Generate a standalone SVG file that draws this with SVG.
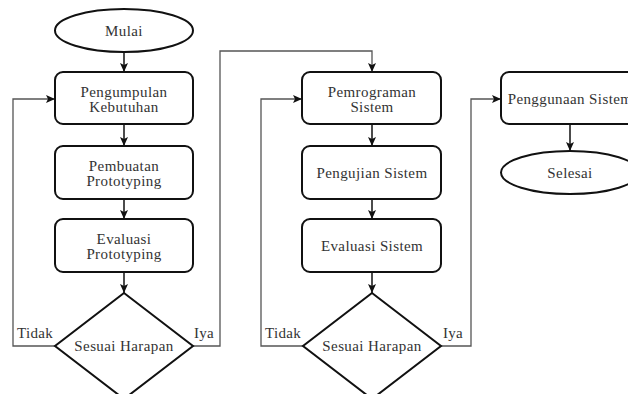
<svg xmlns="http://www.w3.org/2000/svg" width="628" height="394" viewBox="0 0 628 394">
<style>
.box{fill:#fff;stroke:#111;stroke-width:2}
.t{font-family:"Liberation Serif","Times New Roman",serif;font-size:15px;letter-spacing:0.4px;fill:#333;text-anchor:middle}
.lbl{font-family:"Liberation Serif","Times New Roman",serif;font-size:15px;letter-spacing:0.3px;fill:#333}
.c{fill:none;stroke:#111;stroke-width:1.5}
.loop{fill:none;stroke:#555;stroke-width:1.3}
</style>
<defs>
<marker id="ah" markerUnits="userSpaceOnUse" markerWidth="10" markerHeight="10" refX="9" refY="5" orient="auto">
<path d="M0,1 L9,5 L0,9 L2,5 z" fill="#111"/>
</marker>
</defs>
<rect width="628" height="394" fill="#fff"/>
<g id="connectors">
<line class="c" x1="124" y1="52" x2="124" y2="72" marker-end="url(#ah)"/>
<line class="c" x1="124" y1="124" x2="124" y2="146" marker-end="url(#ah)"/>
<line class="c" x1="124" y1="199" x2="124" y2="219" marker-end="url(#ah)"/>
<line class="c" x1="124" y1="272" x2="124" y2="293" marker-end="url(#ah)"/>
<polyline class="loop" points="55,346 13,346 13,99 55,99" marker-end="url(#ah)"/>
<polyline class="loop" points="193,346 220,346 220,51 372,51 372,72" marker-end="url(#ah)"/>
<line class="c" x1="372" y1="124" x2="372" y2="146" marker-end="url(#ah)"/>
<line class="c" x1="372" y1="199" x2="372" y2="219" marker-end="url(#ah)"/>
<line class="c" x1="372" y1="272" x2="372" y2="293" marker-end="url(#ah)"/>
<polyline class="loop" points="303,346 261,346 261,99 302,99" marker-end="url(#ah)"/>
<polyline class="loop" points="441,346 471,346 471,99 501,99" marker-end="url(#ah)"/>
<line class="c" x1="570" y1="124" x2="570" y2="151" marker-end="url(#ah)"/>
<text class="lbl" x="17" y="338">Tidak</text>
<text class="lbl" x="194" y="338">Iya</text>
<text class="lbl" x="265" y="338">Tidak</text>
<text class="lbl" x="443" y="338">Iya</text>
</g>
<g id="mulai">
<ellipse class="box" cx="124" cy="30.5" rx="69" ry="21.5"/>
<text class="t" x="124" y="36">Mulai</text>
</g>
<g id="pengumpulan">
<rect class="box" x="55" y="72" width="138" height="52" rx="8"/>
<text class="t" x="124" y="96.5">Pengumpulan</text>
<text class="t" x="124" y="111.5">Kebutuhan</text>
</g>
<g id="pembuatan">
<rect class="box" x="55" y="146" width="138" height="53" rx="8"/>
<text class="t" x="124" y="170.5">Pembuatan</text>
<text class="t" x="124" y="185.5">Prototyping</text>
</g>
<g id="evaluasi-prototyping">
<rect class="box" x="55" y="219" width="138" height="53" rx="8"/>
<text class="t" x="124" y="243.5">Evaluasi</text>
<text class="t" x="124" y="258.5">Prototyping</text>
</g>
<g id="sesuai1">
<polygon class="box" points="124,293 193,346 124,399 55,346"/>
<text class="t" x="124" y="351">Sesuai Harapan</text>
</g>
<g id="pemrograman">
<rect class="box" x="302" y="72" width="139" height="52" rx="8"/>
<text class="t" x="372" y="96.5">Pemrograman</text>
<text class="t" x="372" y="111.5">Sistem</text>
</g>
<g id="pengujian">
<rect class="box" x="302" y="146" width="139" height="53" rx="8"/>
<text class="t" x="372" y="178">Pengujian Sistem</text>
</g>
<g id="evaluasi-sistem">
<rect class="box" x="302" y="219" width="139" height="53" rx="8"/>
<text class="t" x="372" y="251">Evaluasi Sistem</text>
</g>
<g id="sesuai2">
<polygon class="box" points="372,293 441,346 372,399 303,346"/>
<text class="t" x="372" y="351">Sesuai Harapan</text>
</g>
<g id="penggunaan">
<rect class="box" x="501" y="72" width="138" height="52" rx="8"/>
<text class="t" x="570" y="103.5">Penggunaan Sistem</text>
</g>
<g id="selesai">
<ellipse class="box" cx="570" cy="172.5" rx="69" ry="21.5"/>
<text class="t" x="570" y="178">Selesai</text>
</g>
</svg>
